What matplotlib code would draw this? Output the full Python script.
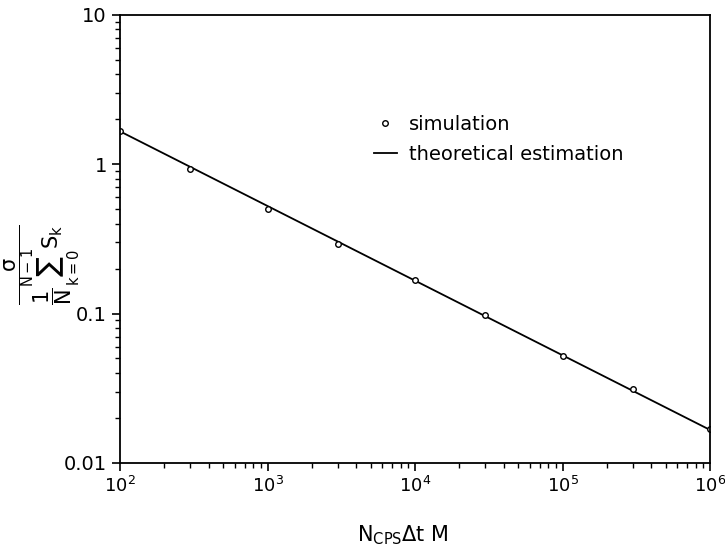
import matplotlib.pyplot as plt
import numpy as np

# simulation points
sim_x = [1e2, 3e2, 1e3, 3e3, 1e4, 3e4, 1e5, 3e5, 1e6]
sim_y = [1.66, 0.93, 0.50, 0.29, 0.168, 0.098, 0.052, 0.031, 0.0168]

# theoretical estimation: straight line on log-log axes, endpoints
theo_x = [1e2, 1e6]
theo_y = [1.66, 0.0166]

x_ticks = [1e2, 1e3, 1e4, 1e5, 1e6]
x_labels = ['$10^2$', '$10^3$', '$10^4$', '$10^5$', '$10^6$']
y_ticks = [0.01, 0.1, 1, 10]
y_labels = ['0.01', '0.1', '1', '10']

plt.rcParams['font.family'] = ['DejaVu Sans']
plt.rcParams['mathtext.fontset'] = 'dejavusans'

fig = plt.figure(figsize=(7.25, 5.51), dpi=100)
ax = fig.add_axes([0.1655, 0.16, 0.814, 0.813])

ax.plot(theo_x, theo_y, 'k-', lw=1.3, label='theoretical estimation', zorder=1)
ax.plot(sim_x, sim_y, 'o', ms=4, mfc='white', mec='k', mew=1.0,
	label='simulation', zorder=2)

ax.set_xscale('log')
ax.set_yscale('log')
ax.set_xlim(1e2, 1e6)
ax.set_ylim(0.01, 10)
ax.set_xticks(x_ticks)
ax.set_xticklabels(x_labels, fontsize=13)
ax.set_yticks(y_ticks)
ax.set_yticklabels(y_labels, fontsize=14)
ax.tick_params(which='major', direction='out', length=6, width=1.2, top=False, right=False)
ax.tick_params(which='minor', direction='out', length=3.5, width=1.0, top=False, right=False)
for s in ax.spines.values():
	s.set_linewidth(1.3)

ax.set_xlabel(r'N$_{\mathregular{CPS}}$$\Delta$t M', fontsize=15, labelpad=20)
ax.xaxis.set_label_coords(0.48, -0.135)

# y label: sigma over (1/N sum S_k), drawn rotated in the left margin
fig.text(0.058, 0.52,
	r'$\dfrac{\mathregular{\sigma}}{\dfrac{\mathregular{1}}{\mathregular{N}}\sum_{\mathregular{k=0}}^{\mathregular{N-1}}\mathregular{S}_{\mathregular{k}}}$',
	rotation=90, fontsize=15, ha='center', va='center')

handles, labels = ax.get_legend_handles_labels()
ax.legend(handles[::-1], labels[::-1], loc='upper left',
	bbox_to_anchor=(0.40, 0.815), frameon=False, fontsize=14,
	handlelength=1.2, handletextpad=0.6, labelspacing=0.55)

plt.savefig('out.png', dpi=100)
